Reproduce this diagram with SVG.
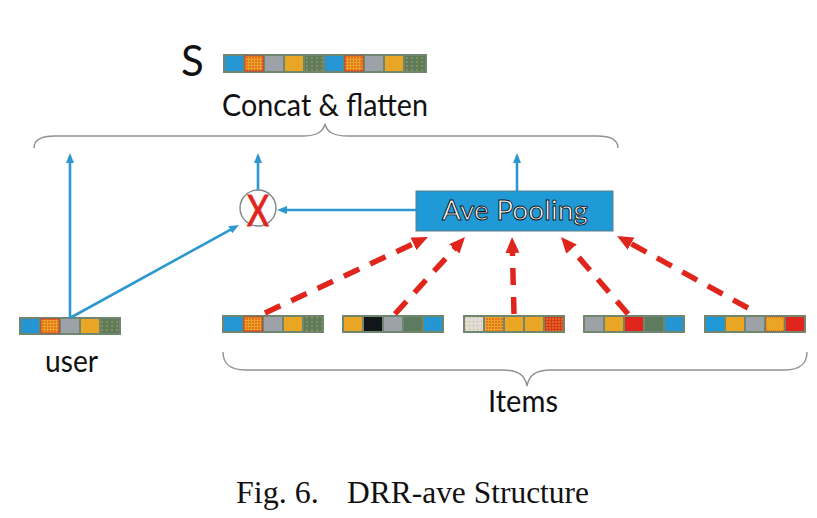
<svg xmlns="http://www.w3.org/2000/svg" width="817" height="518" viewBox="0 0 817 518">
<style>
.lbl{font-family:Lato,"Open Sans",sans-serif;fill:#111;}
.cap{font-family:"Liberation Serif","Times New Roman",serif;fill:#111;font-size:32px;}
.brace{fill:none;stroke:#8b9393;stroke-width:1.4;}
.blue{stroke:#2c98cf;stroke-width:2.6;fill:none;}
.red{stroke:#e0261c;stroke-width:5.5;fill:none;stroke-dasharray:17 12;}
.bg{fill:#70866f;}
</style>
<defs>
<marker id="ab" viewBox="0 0 10 8" refX="1" refY="4" markerWidth="10" markerHeight="8" markerUnits="userSpaceOnUse" orient="auto"><path d="M0,0 L10,4 L0,8 z" fill="#2c98cf"/></marker>
<marker id="ar" viewBox="0 0 16 14" refX="2" refY="7" markerWidth="16" markerHeight="14" markerUnits="userSpaceOnUse" orient="auto"><path d="M0,0 L16,7 L0,14 z" fill="#e0261c"/></marker>
<pattern id="pB" width="3" height="3" patternUnits="userSpaceOnUse"><rect width="3" height="3" fill="#2099d6"/><circle cx="1" cy="1" r="0.7" fill="#3d83c2"/></pattern>
<pattern id="pOR" width="3" height="3" patternUnits="userSpaceOnUse"><rect width="3" height="3" fill="#e9a524"/><circle cx="1" cy="1" r="0.8" fill="#e0301c"/></pattern>
<pattern id="pG" width="5" height="4" patternUnits="userSpaceOnUse"><rect width="5" height="4" fill="#5d7c5f"/><circle cx="2" cy="2" r="0.7" fill="#e3a828"/></pattern>
<pattern id="pL" width="4" height="4" patternUnits="userSpaceOnUse"><rect width="4" height="4" fill="#dedcd8"/><circle cx="1.5" cy="1.5" r="0.6" fill="#e3a828"/></pattern>
<pattern id="pRM" width="3" height="3" patternUnits="userSpaceOnUse"><rect width="3" height="3" fill="#d9381c"/><circle cx="1" cy="1" r="0.8" fill="#e9a524"/></pattern>
</defs>

<g id="s-label"><text class="lbl" x="181" y="76" font-size="42">S</text></g>

<g id="concat-vector">
<rect class="bg" x="223" y="54" width="204" height="19"/>
<rect x="225" y="56" width="18" height="15" fill="url(#pB)"/>
<rect x="245" y="56" width="18" height="15" fill="url(#pOR)" stroke="#e0261c" stroke-width="0.8"/>
<rect x="265" y="56" width="18" height="15" fill="#9ca2a7"/>
<rect x="285" y="56" width="18" height="15" fill="#e9a524"/>
<rect x="305" y="56" width="18" height="15" fill="url(#pG)"/>
<rect x="325" y="56" width="18" height="15" fill="url(#pB)"/>
<rect x="345" y="56" width="18" height="15" fill="url(#pOR)" stroke="#e0261c" stroke-width="0.8"/>
<rect x="365" y="56" width="18" height="15" fill="#9ca2a7"/>
<rect x="385" y="56" width="18" height="15" fill="#e9a524"/>
<rect x="405" y="56" width="20" height="15" fill="url(#pG)"/>
</g>

<g id="concat-label"><text class="lbl" x="222" y="116" font-size="31" textLength="206" lengthAdjust="spacingAndGlyphs">Concat &amp; flatten</text></g>

<g id="top-brace"><path class="brace" d="M34,148 C34,140 40,136 55,136 L302,136 C317,136 323,132 325,124 C327,132 333,136 348,136 L597,136 C612,136 618,140 618,148"/></g>

<g id="user-vector">
<rect class="bg" x="19" y="317" width="102" height="18"/>
<rect x="21" y="319" width="18" height="14" fill="url(#pB)"/>
<rect x="41" y="319" width="18" height="14" fill="url(#pOR)" stroke="#e0261c" stroke-width="0.8"/>
<rect x="61" y="319" width="18" height="14" fill="#9ca2a7"/>
<rect x="81" y="319" width="18" height="14" fill="#e9a524"/>
<rect x="101" y="319" width="18" height="14" fill="url(#pG)"/>
</g>
<g id="user-label"><text class="lbl" x="45" y="372" font-size="30" textLength="53" lengthAdjust="spacingAndGlyphs">user</text></g>

<g id="multiply">
<circle cx="258" cy="208" r="18" fill="#fff" stroke="#7c8888" stroke-width="1.4"/>
<text x="258" y="225.5" font-family="Lato,'Open Sans',sans-serif" font-size="42" fill="#e0261c" stroke="#e0261c" stroke-width="0.9" text-anchor="middle" textLength="22" lengthAdjust="spacingAndGlyphs">X</text>
</g>

<g id="ave-pooling">
<rect x="416" y="191" width="197" height="40" fill="#1f9ad6" stroke="#5b7f86" stroke-width="1"/>
<text x="442" y="220" font-family="Lato,'Open Sans',sans-serif" font-size="27" fill="#fff" stroke="#111" stroke-width="0.9" textLength="146" lengthAdjust="spacingAndGlyphs">Ave Pooling</text>
</g>

<g id="item1">
<rect class="bg" x="222" y="315" width="102" height="18"/>
<rect x="224" y="317" width="18" height="14" fill="url(#pB)"/>
<rect x="244" y="317" width="18" height="14" fill="url(#pOR)" stroke="#e0261c" stroke-width="0.8"/>
<rect x="264" y="317" width="18" height="14" fill="#9ca2a7"/>
<rect x="284" y="317" width="18" height="14" fill="#e9a524"/>
<rect x="304" y="317" width="18" height="14" fill="url(#pG)"/>
</g>
<g id="item2">
<rect class="bg" x="342" y="315" width="102" height="18"/>
<rect x="344" y="317" width="18" height="14" fill="#e9a524"/>
<rect x="364" y="317" width="18" height="14" fill="#121519"/>
<rect x="384" y="317" width="18" height="14" fill="#9ca2a7"/>
<rect x="404" y="317" width="18" height="14" fill="#5d7c5f"/>
<rect x="424" y="317" width="18" height="14" fill="url(#pB)"/>
</g>
<g id="item3">
<rect class="bg" x="463" y="315" width="102" height="18"/>
<rect x="465" y="317" width="18" height="14" fill="url(#pL)"/>
<rect x="485" y="317" width="18" height="14" fill="url(#pOR)"/>
<rect x="505" y="317" width="18" height="14" fill="#e9a524"/>
<rect x="525" y="317" width="18" height="14" fill="#e9a524"/>
<rect x="545" y="317" width="18" height="14" fill="url(#pRM)"/>
</g>
<g id="item4">
<rect class="bg" x="583" y="315" width="102" height="18"/>
<rect x="585" y="317" width="18" height="14" fill="#9ca2a7"/>
<rect x="605" y="317" width="18" height="14" fill="#e9a524"/>
<rect x="625" y="317" width="18" height="14" fill="#e0261c"/>
<rect x="645" y="317" width="18" height="14" fill="#5d7c5f"/>
<rect x="665" y="317" width="18" height="14" fill="url(#pB)"/>
</g>
<g id="item5">
<rect class="bg" x="704" y="315" width="102" height="18"/>
<rect x="706" y="317" width="18" height="14" fill="#2099d6"/>
<rect x="726" y="317" width="18" height="14" fill="#e9a524"/>
<rect x="746" y="317" width="18" height="14" fill="#9ca2a7"/>
<rect x="766" y="317" width="18" height="14" fill="#e9a524" stroke="#e0261c" stroke-width="0.8" stroke-dasharray="1 1"/>
<rect x="786" y="317" width="18" height="14" fill="#e0261c"/>
</g>

<g id="items-brace"><path class="brace" d="M223,352 C223,362 229,370 245,370 L503,370 C518,370 525,375 527,386 C529,375 536,370 551,370 L785,370 C801,370 807,362 807,352"/></g>
<g id="items-label"><text class="lbl" x="523" y="412" font-size="30" text-anchor="middle" textLength="70" lengthAdjust="spacingAndGlyphs">Items</text></g>

<g id="connectors">
<line class="blue" x1="70" y1="318" x2="70" y2="162" marker-end="url(#ab)"/>
<line class="blue" x1="70" y1="318" x2="231.1" y2="229.3" marker-end="url(#ab)"/>
<line class="blue" x1="258" y1="190" x2="258" y2="162" marker-end="url(#ab)"/>
<line class="blue" x1="517" y1="191" x2="517" y2="162" marker-end="url(#ab)"/>
<line class="blue" x1="416" y1="210" x2="286" y2="210" marker-end="url(#ab)"/>
<line class="red" x1="265" y1="313" x2="415.3" y2="242.9" marker-end="url(#ar)"/>
<line class="red" x1="395" y1="314" x2="455.6" y2="247.4" marker-end="url(#ar)"/>
<line class="red" x1="514" y1="314" x2="512.4" y2="251" marker-end="url(#ar)"/>
<line class="red" x1="628" y1="314" x2="570.2" y2="247.6" marker-end="url(#ar)"/>
<line class="red" x1="748" y1="308" x2="629.3" y2="242.7" marker-end="url(#ar)"/>
</g>

<g id="caption">
<text class="cap" x="236" y="503">Fig. 6.</text>
<text class="cap" x="347" y="503" textLength="242" lengthAdjust="spacingAndGlyphs">DRR-ave Structure</text>
</g>
</svg>
